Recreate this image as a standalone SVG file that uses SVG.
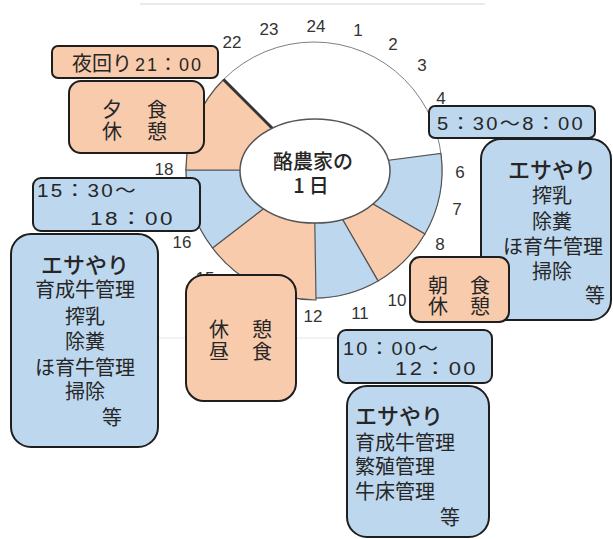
<svg xmlns="http://www.w3.org/2000/svg" width="613" height="539" viewBox="0 0 613 539">
<style>
.peach{fill:#F8CBAD}
.blue{fill:#BDD7EE}
.box{stroke:#1e1e1e;stroke-width:2}
.slice{stroke:#555;stroke-width:1.2}
.num{font-family:"Liberation Sans","Noto Sans CJK JP",sans-serif;font-size:17px;fill:#333;text-anchor:middle}
.jp{font-family:"Noto Sans CJK JP",sans-serif;font-size:20px;fill:#262626}
.mid{text-anchor:middle}
.time{font-family:"Liberation Sans","Noto Sans CJK JP",sans-serif;font-size:18px;fill:#262626;letter-spacing:2px}
.big{font-size:22px;font-weight:500}
</style>
<rect width="613" height="539" fill="#fff"/>
<line x1="140" y1="4" x2="485" y2="4" stroke="#e2e2e2" stroke-width="1.5"/>
<line x1="158" y1="338" x2="340" y2="338" stroke="#e6e6e6" stroke-width="1"/>

<g id="clock">
  <circle cx="314" cy="170" r="128" fill="#fff" stroke="#808080" stroke-width="1"/>
  <path class="blue slice" d="M314,170 L440.9,153.3 A128,128 0 0 1 424.9,234 Z"/>
  <path class="peach slice" d="M314,170 L424.9,234 A128,128 0 0 1 378,280.9 Z"/>
  <path class="blue slice" d="M314,170 L378,280.9 A128,128 0 0 1 314,298 Z"/>
  <path class="peach slice" d="M314,170 L316,300 A130,130 0 0 1 212.5,247.9 Z"/>
  <path class="blue slice" d="M314,170 L212.5,247.9 A128,128 0 0 1 186,170 Z"/>
  <path class="peach slice" d="M314,170 L186,170 A128,128 0 0 1 223.5,79.5 Z"/>
  <line x1="223.5" y1="79.5" x2="275" y2="131" stroke="#333" stroke-width="3"/>
  <ellipse cx="315" cy="171" rx="75" ry="52" fill="#fff" stroke="#555" stroke-width="1.5"/>
  <text class="jp mid" x="313" y="169" font-size="21" font-weight="500" fill="#1a1a1a">酪農家の</text>
  <text class="jp mid" x="313" y="193" font-size="20" font-weight="500" fill="#1a1a1a" letter-spacing="4">1日</text>
</g>

<g id="hours">
  <text class="num" x="232" y="48">22</text>
  <text class="num" x="269" y="35">23</text>
  <text class="num" x="316" y="32">24</text>
  <text class="num" x="358" y="36">1</text>
  <text class="num" x="393" y="50">2</text>
  <text class="num" x="422" y="71">3</text>
  <text class="num" x="441" y="104">4</text>
  <text class="num" x="460" y="178">6</text>
  <text class="num" x="457" y="215">7</text>
  <text class="num" x="440" y="250">8</text>
  <text class="num" x="397" y="306">10</text>
  <text class="num" x="360" y="319">11</text>
  <text class="num" x="313" y="322">12</text>
  <text class="num" x="205" y="284">15</text>
  <text class="num" x="182" y="248">16</text>
  <text class="num" x="164" y="175">18</text>
</g>

<g id="night-round">
  <rect class="peach box" x="52" y="46" width="166" height="32" rx="6"/>
  <text class="jp" x="72" y="71" font-size="15">夜回り</text>
  <text class="time" x="135" y="71" font-size="17" textLength="68" lengthAdjust="spacingAndGlyphs">21：00</text>
</g>

<g id="dinner">
  <rect class="peach box" x="69" y="81" width="135" height="72" rx="12"/>
  <text class="jp mid" x="112" y="117">夕</text>
  <text class="jp mid" x="157" y="117">食</text>
  <text class="jp mid" x="112" y="139">休</text>
  <text class="jp mid" x="157" y="139">憩</text>
</g>

<g id="evening-time">
  <rect class="blue box" x="33" y="178" width="167" height="53" rx="8"/>
  <text class="time" x="37" y="197" textLength="101" lengthAdjust="spacingAndGlyphs">15：30～</text>
  <text class="time" x="90" y="225" textLength="85" lengthAdjust="spacingAndGlyphs">18：00</text>
</g>

<g id="evening-tasks">
  <rect class="blue box" x="11" y="234" width="147" height="213" rx="20"/>
  <text class="jp mid big" x="85" y="273">エサやり</text>
  <text class="jp mid" x="85" y="297">育成牛管理</text>
  <text class="jp mid" x="85" y="324">搾乳</text>
  <text class="jp mid" x="85" y="349">除糞</text>
  <text class="jp mid" x="85" y="375">ほ育牛管理</text>
  <text class="jp mid" x="85" y="399">掃除</text>
  <text class="jp mid" x="112" y="425">等</text>
</g>

<g id="lunch">
  <rect class="peach box" x="186" y="275" width="110" height="126" rx="18"/>
  <text class="jp mid" x="219" y="337">休</text>
  <text class="jp mid" x="262" y="337">憩</text>
  <text class="jp mid" x="219" y="359">昼</text>
  <text class="jp mid" x="262" y="359">食</text>
</g>

<g id="morning-time">
  <rect class="blue box" x="429" y="106" width="166" height="32" rx="6"/>
  <text class="time" x="437" y="130" textLength="148" lengthAdjust="spacingAndGlyphs">5：30～8：00</text>
</g>

<g id="morning-tasks">
  <rect class="blue box" x="481" y="139" width="130" height="181" rx="20"/>
  <text class="jp mid big" x="552" y="178">エサやり</text>
  <text class="jp mid" x="552" y="203">搾乳</text>
  <text class="jp mid" x="552" y="229">除糞</text>
  <text class="jp mid" x="553" y="254">ほ育牛管理</text>
  <text class="jp mid" x="552" y="279">掃除</text>
  <text class="jp mid" x="595" y="303">等</text>
</g>

<g id="breakfast">
  <rect class="peach box" x="410" y="257" width="99" height="65" rx="10"/>
  <text class="jp mid" x="438" y="293" font-size="19">朝</text>
  <text class="jp mid" x="480" y="293" font-size="19">食</text>
  <text class="jp mid" x="438" y="314" font-size="19">休</text>
  <text class="jp mid" x="480" y="314" font-size="19">憩</text>
</g>

<g id="midday-time">
  <rect class="blue box" x="338" y="330" width="154" height="53" rx="8"/>
  <text class="time" x="343" y="355" textLength="97" lengthAdjust="spacingAndGlyphs">10：00～</text>
  <text class="time" x="395" y="375" textLength="83" lengthAdjust="spacingAndGlyphs">12：00</text>
</g>

<g id="midday-tasks">
  <rect class="blue box" x="347" y="386" width="142" height="151" rx="20"/>
  <text class="jp big" x="355" y="424">エサやり</text>
  <text class="jp" x="355" y="450">育成牛管理</text>
  <text class="jp" x="355" y="474">繁殖管理</text>
  <text class="jp" x="355" y="499">牛床管理</text>
  <text class="jp mid" x="450" y="525">等</text>
</g>

<g id="connectors"></g>
</svg>
